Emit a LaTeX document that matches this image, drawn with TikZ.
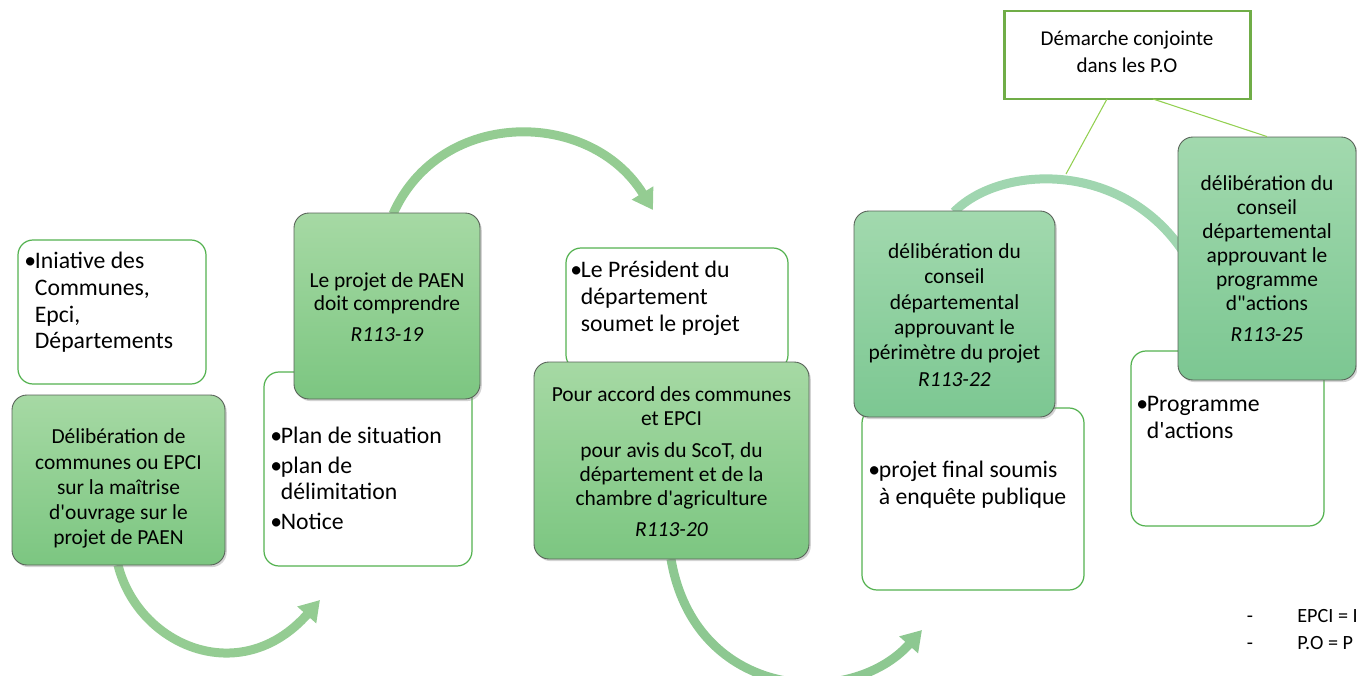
\documentclass[tikz,border=0pt]{standalone}
\usepackage{fontspec}
\setmainfont{Carlito}
\usetikzlibrary{arrows.meta,fit,shadows}

\definecolor{arcgreen}{RGB}{148,204,146}
\definecolor{arcteal}{RGB}{160,214,176}
\definecolor{boxtop}{RGB}{166,217,164}
\definecolor{boxbottom}{RGB}{124,198,129}
\definecolor{tealtop}{RGB}{162,217,174}
\definecolor{tealbottom}{RGB}{124,199,146}
\definecolor{boxedge}{RGB}{88,98,88}
\definecolor{listedge}{RGB}{84,178,80}
\definecolor{noteedge}{RGB}{112,173,71}
\definecolor{linkgreen}{RGB}{146,208,80}

\newcommand{\blt}{\makebox[6pt][l]{\textbullet}}
\newcommand{\bltind}{\hspace*{6pt}}
\newcommand{\apos}{\textquotesingle}

\begin{document}
\begin{tikzpicture}[x=0.02cm, y=-0.02cm,
    stepbox/.style={draw=boxedge, line width=0.5pt, rounded corners=0.3cm,
      top color=boxtop, bottom color=boxbottom, inner sep=0pt,
      drop shadow={opacity=0.35, shadow xshift=1pt, shadow yshift=-1.2pt}},
    tealbox/.style={stepbox, top color=tealtop, bottom color=tealbottom},
    steptext/.style={inner sep=0pt, align=center,
      font=\fontsize{12.2}{13.6}\selectfont},
    widetext/.style={steptext, font=\fontsize{12.2}{14.4}\selectfont},
    listbox/.style={draw=listedge, line width=0.7pt, rounded corners=0.3cm,
      fill=white, inner sep=0pt},
    listtext/.style={anchor=north west, inner sep=0pt, align=left,
      font=\fontsize{13.5}{15.2}\selectfont},
    notebox/.style={draw=noteedge, line width=1.7pt, fill=white, inner sep=0pt},
    flow/.style={draw=arcgreen, line width=0.18cm,
      -{Triangle[width=0.48cm,length=0.4cm]}},
    link/.style={draw=linkgreen, line width=0.6pt},
    legend/.style={inner sep=0pt, font=\fontsize{11.5}{13}\selectfont}]

  \useasboundingbox (0,0) rectangle (1357,676);
  \clip (0,0) rectangle (1357,676);

  % white boxes
  \node[listbox, fit={(18,240) (206,384)}] (initiative) {};
  \node[listbox, fit={(264,372) (472,566)}] (pieces) {};
  \node[listbox, fit={(566,248) (788,370)}] (president) {};
  \node[listbox, fit={(862,408) (1084,590)}] (enquete) {};
  \node[listbox, fit={(1131,351) (1324,526)}] (actions) {};

  \node[listtext] (tinitiative) at (24,252)
    {\blt Iniative des\\ \bltind Communes,\\ \bltind Epci,\\ \bltind Départements};
  \node[listtext] (tpieces) at (270,427)
    {\blt Plan de situation\\[1.5pt] \blt plan de\\ \bltind délimitation\\[1.5pt] \blt Notice};
  \node[listtext] (tpresident) at (570,261)
    {\blt Le Président du\\ \bltind département\\ \bltind soumet le projet};
  \node[listtext] (tenquete) at (868,461)
    {\blt projet final soumis\\ \bltind à enquête publique};
  \node[listtext] (tactions) at (1136,396)
    {\blt Programme\\ \bltind d\apos actions};

  % arcs
  \coordinate (a1end) at (320,600);
  \coordinate (a2end) at (653,210);
  \coordinate (a3end) at (922,630);
  \coordinate (a4end) at (1182,250);
  \coordinate (arctop) at (1066,174);

  \draw[flow] (118,565) .. controls (138,645) and (240,690) .. (a1end);
  \draw[flow] (393,214) .. controls (440,108) and (590,108) .. (a2end);
  \draw[flow, draw=arcgreen!95!teal] (671,559) .. controls (695,700) and (850,710) .. (a3end);
  \draw[flow, draw=arcteal, -] (954,212) .. controls (1000,165) and (1120,160) .. (a4end);

  % green boxes
  \node[stepbox, fit={(12,395) (225,565)}] (deliberation) {};
  \node[stepbox, fit={(294,213) (480,399)}] (projet) {};
  \node[stepbox, fit={(534,362) (809,559)}] (accord) {};
  \node[tealbox, fit={(854,211) (1055,417)}] (perimetre) {};
  \node[tealbox, fit={(1178,137) (1356,380)}] (programme) {};

  \node[widetext] (tdeliberation) at ([yshift=-5pt]deliberation.center)
    {Délibération de\\ communes ou EPCI\\ sur la maîtrise\\ d\apos ouvrage sur le\\ projet de PAEN};
  \node[steptext] (tprojet) at ([yshift=-0.6pt]projet.center)
    {Le projet de PAEN\\ doit comprendre\\[4pt] \textit{R113-19}};
  \node[steptext] (taccord) at ([yshift=-0.6pt]accord.center)
    {Pour accord des communes\\ et EPCI\\[5pt] pour avis du ScoT, du\\ département et de la\\
     chambre d\apos agriculture\\[4pt] \textit{R113-20}};
  \node[widetext] (tperimetre) at ([yshift=-0.7pt]perimetre.center)
    {délibération du\\ conseil\\ départemental\\ approuvant le\\ périmètre du projet\\[1pt]
     \textit{R113-22}};
  \node[steptext] (tprogramme) at (programme.center)
    {délibération du\\ conseil\\ départemental\\ approuvant le\\ programme\\ d\textquotedbl actions\\[4pt]
     \textit{R113-25}};

  % note
  \node[notebox, fit={(1004,11) (1250,99)}] (demarche) {};
  \node[steptext, font=\fontsize{12}{15.3}\selectfont] (tdemarche)
    at ([yshift=2pt]demarche.center) {Démarche conjointe\\ dans les P.O};
  \draw[link] (1107,99) -- (arctop);
  \draw[link] (1153,99) -- (programme.north);

  % legend
  \node[legend, anchor=base] (dash1) at (1250,622) {-};
  \node[legend, anchor=base] (dash2) at (1250,649) {-};
  \node[legend, anchor=base west] (epci) at (1297,622) {EPCI = I};
  \node[legend, anchor=base west] (po) at (1297,649) {P.O = P};

\end{tikzpicture}
\end{document}
